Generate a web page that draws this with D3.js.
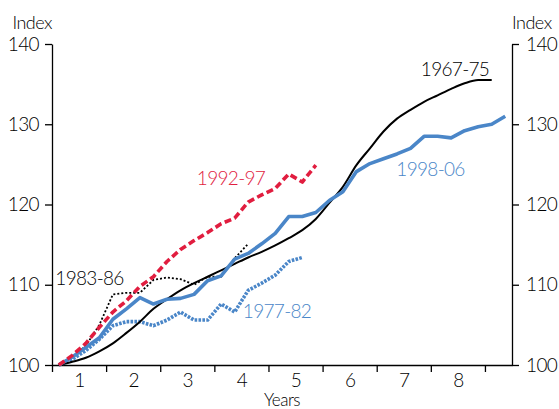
<!DOCTYPE html>
<html>
<head>
<meta charset="utf-8">
<script src="https://cdn.jsdelivr.net/npm/d3@7"></script>
<style>
  html, body { margin: 0; padding: 0; background: #fff; }
  svg { display: block; font-family: Lato, "Liberation Sans", Arial, sans-serif; font-weight: 300; }
</style>
</head>
<body>
<svg id="chart" width="559" height="409"></svg>
<script>
// ---- data (quarterly index, start = 100) ----
const s1967_75 = [100.0,100.4,100.9,101.7,102.7,104.0,105.4,107.0,108.2,109.3,110.2,111.0,111.8,112.6,113.4,114.1,114.9,115.8,116.8,118.2,120.2,122.2,124.9,127.0,129.1,130.7,131.8,132.8,133.6,134.4,135.1,135.5,135.5];
const s1998_06 = [100.0,101.0,102.2,103.4,105.7,107.0,108.4,107.6,108.2,108.3,108.8,110.5,111.1,113.2,113.9,115.1,116.4,118.5,118.5,119.0,120.5,121.6,124.1,125.1,125.7,126.3,127.0,128.5,128.5,128.3,129.2,129.7,130.0,131.0];
const s1992_97 = [100.0,101.2,102.7,104.7,106.6,108.0,109.8,111.0,112.9,114.4,115.5,116.5,117.6,118.3,120.3,121.2,122.0,123.8,122.8,124.9];
const s1983_86 = [100.0,101.0,102.4,105.0,108.8,109.0,109.0,110.6,110.9,110.7,110.0,111.0,111.0,113.3,115.1];
const s1977_82 = [100.0,100.7,101.8,103.2,104.9,105.4,105.4,104.9,105.6,106.6,105.6,105.6,107.6,106.6,109.3,110.2,111.2,112.9,113.4];
const seriesNames = ["1967-75","1998-06","1992-97","1983-86","1977-82"];
const yTicks = [100,110,120,130,140];
const xLabels = ["1","2","3","4","5","6","7","8"];

const red = "#e11d3f", blue = "#4a86c8";
const FONT = 'Lato, "Liberation Sans", Arial, sans-serif';

const svg = d3.select("#chart");
const mLeft = 52, mRight = 512, mTop = 44, mBottom = 365;

const x = d3.scaleLinear().domain([0, 34]).range([mLeft, mRight]);
const y = d3.scaleLinear().domain([100, 140]).range([mBottom, mTop]);

// axes
const axL = svg.append("g").attr("transform", `translate(${mLeft},0)`)
  .call(d3.axisLeft(y).tickValues(yTicks).tickSize(7).tickSizeOuter(0).tickPadding(6));
const axR = svg.append("g").attr("transform", `translate(${mRight},0)`)
  .call(d3.axisRight(y).tickValues(yTicks).tickSize(7).tickSizeOuter(0).tickPadding(7));
const axB = svg.append("g").attr("transform", `translate(0,${mBottom})`)
  .call(d3.axisBottom(x).tickValues(d3.range(0, 33, 4)).tickSize(7).tickSizeOuter(0).tickFormat(""));
const axB2 = svg.append("g").attr("transform", `translate(0,${mBottom})`)
  .call(d3.axisBottom(x).tickValues(xLabels.map((d, i) => 2 + 4 * i)).tickSize(0).tickPadding(9)
    .tickFormat((d, i) => xLabels[i]));
axB2.select(".domain").remove();

[axL, axR, axB, axB2].forEach(g => {
  g.selectAll("path, line").attr("stroke", "#000").attr("stroke-width", 1.3);
  g.selectAll("text").attr("font-size", 19).attr("fill", "#000")
    .attr("font-family", FONT).attr("font-weight", 300).style("letter-spacing", "-0.6px");
});

const txt = (t, xx, yy, anchor, size, color) =>
  svg.append("text").attr("x", xx).attr("y", yy).attr("text-anchor", anchor)
    .attr("font-family", FONT).attr("font-weight", 300)
    .attr("font-size", size).style("letter-spacing", "-0.5px").attr("fill", color).text(t);

txt("Index", mLeft, 29, "end", 18, "#000");
txt("Index", mRight, 29, "start", 18, "#000");
txt("Years", x(17), 406, "middle", 17, "#000");

// lines
const mk = (curve) => d3.line().x((d, i) => x(i + 0.5)).y(d => y(d)).curve(curve);

const specs = [
  { data: s1977_82, color: blue, w: 3.6, dash: "2.6,1.3", curve: d3.curveLinear },
  { data: s1983_86, color: "#000", w: 1.8, dash: "2,2", curve: d3.curveLinear },
  { data: s1967_75, color: "#000", w: 2, dash: null, curve: d3.curveMonotoneX },
  { data: s1998_06, color: blue, w: 3.6, dash: null, curve: d3.curveLinear },
  { data: s1992_97, color: red, w: 3.6, dash: "7,3.5", curve: d3.curveLinear },
];
specs.forEach(s => {
  svg.append("path").datum(s.data)
    .attr("d", mk(s.curve))
    .attr("fill", "none").attr("stroke", s.color).attr("stroke-width", s.w)
    .attr("stroke-linejoin", "round")
    .attr("stroke-dasharray", s.dash);
});

// series labels
const labels = [
  { t: seriesNames[0], x: 455, y: 76, c: "#000" },
  { t: seriesNames[1], x: 430.5, y: 176, c: blue },
  { t: seriesNames[2], x: 231, y: 185, c: red },
  { t: seriesNames[3], x: 89.5, y: 285, c: "#000" },
  { t: seriesNames[4], x: 277, y: 318, c: blue },
];
labels.forEach(l => txt(l.t, l.x, l.y, "middle", 19, l.c).style("letter-spacing", "-0.7px"));
</script>
</body>
</html>
